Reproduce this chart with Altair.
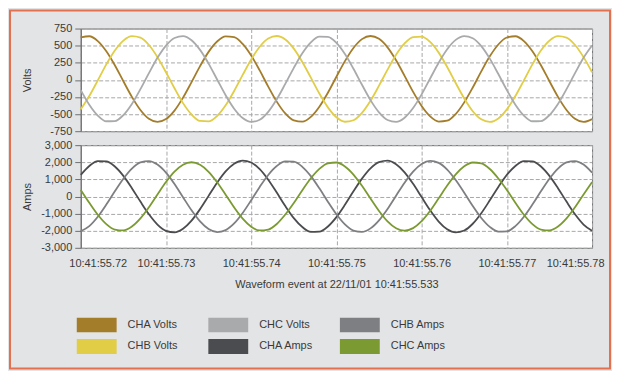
import altair as alt
import pandas as pd

# time offset in milliseconds from 10:41:55.720
t_ms = list(range(61))

cha_volts = [619, 637, 567, 418, 214, -20, -248, -440, -569, -615, -573, -449, -260, -33, 201, 409, 560, 635, 623, 525, 355, 138, -98, -318, -491,
             -593, -611, -541, -392, -188, 46, 274, 466, 595, 641, 599, 475, 286, 59, -175, -383, -534, -609, -597, -499, -329, -112, 124, 344, 517,
             619, 637, 567, 418, 214, -20, -248, -440, -569, -615, -573]
chb_volts = [-431, -236, -7, 226, 428, 573, 638, 616, 509, 332, 111, -123, -340, -506, -600, -607, -528, -372, -162, 72, 298, 484, 603, 641, 590,
             457, 262, 33, -200, -402, -547, -612, -590, -483, -306, -85, 149, 366, 532, 626, 633, 554, 398, 188, -46, -272, -458, -577, -615, -564,
             -431, -236, -7, 226, 428, 573, 638, 616, 509, 332, 111]
chc_volts = [-149, -362, -521, -605, -602, -514, -351, -136, 98, 322, 501, 612, 639, 579, 438, 238, 6, -224, -421, -558, -614, -582, -467, -284, -59,
             175, 388, 547, 631, 628, 540, 377, 162, -72, -296, -475, -586, -613, -553, -412, -212, 20, 250, 447, 584, 640, 608, 493, 310, 85,
             -149, -362, -521, -605, -602, -514, -351, -136, 98, 322, 501]
cha_amps = [1264, 1784, 2069, 2056, 1753, 1205, 487, -300, -1044, -1642, -2008, -2094, -1884, -1411, -739, 36, 807, 1464, 1915, 2098, 1987, 1594, 979, 227, -558,
            -1264, -1784, -2069, -2056, -1753, -1205, -487, 300, 1044, 1642, 2008, 2094, 1884, 1411, 739, -36, -807, -1464, -1915, -2098, -1987, -1594, -979, -227, 558,
            1264, 1784, 2069, 2056, 1753, 1205, 487, -300, -1044, -1642, -2008]
chb_amps = [-2034, -1733, -1188, -474, 304, 1040, 1631, 1991, 2072, 1864, 1392, 726, -44, -807, -1456, -1901, -2078, -1964, -1575, -963, -218, 560, 1258, 1778, 2051,
            2034, 1733, 1188, 474, -304, -1040, -1631, -1991, -2072, -1864, -1392, -726, 44, 807, 1456, 1901, 2078, 1964, 1575, 963, 218, -560, -1258, -1778, -2051,
            -2034, -1733, -1188, -474, 304, 1040, 1631, 1991, 2072, 1864, 1392]
chc_amps = [382, -368, -1066, -1614, -1935, -1985, -1756, -1280, -625, 119, 845, 1453, 1857, 2000, 1849, 1444, 833, 105, -638, -1291, -1763, -1987, -1932, -1606, -1054,
            -382, 368, 1066, 1614, 1935, 1985, 1756, 1280, 625, -119, -845, -1453, -1857, -2000, -1849, -1444, -833, -105, 638, 1291, 1763, 1987, 1932, 1606, 1054,
            382, -368, -1066, -1614, -1935, -1985, -1756, -1280, -625, 119, 845]

series_names = ["CHA Volts", "CHB Volts", "CHC Volts", "CHA Amps", "CHB Amps", "CHC Amps"]
series_colors = ["#a47d2b", "#e1cd46", "#a9aaac", "#4b4c4f", "#7e7f82", "#7b9b32"]

volt_ticks = [-750, -500, -250, 0, 250, 500, 750]
amp_ticks = [-3000, -2000, -1000, 0, 1000, 2000, 3000]
time_ticks = [0, 10, 20, 30, 40, 50, 60]
time_labels = ["10:41:55.72", "10:41:55.73", "10:41:55.74", "10:41:55.75",
               "10:41:55.76", "10:41:55.77", "10:41:55.78"]
x_title = "Waveform event at 22/11/01 10:41:55.533"


def long_table(named):
    rows = []
    for name, vals in named:
        for t, v in zip(t_ms, vals):
            rows.append({"t": t, "value": v, "series": name})
    return pd.DataFrame(rows)


volts = long_table([("CHA Volts", cha_volts), ("CHB Volts", chb_volts), ("CHC Volts", chc_volts)])
amps = long_table([("CHA Amps", cha_amps), ("CHB Amps", chb_amps), ("CHC Amps", chc_amps)])

time_label_expr = "[" + ",".join("'" + s + "'" for s in time_labels) + "][round(datum.value / 10)]"
signed_expr = "(datum.value < 0 ? '-' : '') + format(abs(datum.value), ',')"

FRAME = "#6d6e70"
TEXT = "#3a3a3a"
grid = dict(grid=True, gridColor="#a8a8a8", gridDash=[4, 2], gridWidth=1)

legend = alt.Legend(
    title=None, orient="none", legendX=-11.5, legendY=290, columns=3,
    symbolType="M-1,0H1", symbolSize=1600, symbolStrokeWidth=15,
    symbolOffset=0, labelOffset=3.5, clipHeight=15,
    columnPadding=18, rowPadding=6.5, gridAlign="all",
    labelFontSize=11, labelColor=TEXT, labelFont="Liberation Sans",
    padding=0, symbolOpacity=1,
)
color = alt.Color("series:N", scale=alt.Scale(domain=series_names, range=series_colors), legend=legend)

x_scale = alt.Scale(domain=[0, 60], nice=False, zero=False)
x_top = alt.X("t:Q", scale=x_scale,
              axis=alt.Axis(values=time_ticks, labels=False, ticks=False, domain=False, title=None, **grid))
x_bottom = alt.X("t:Q", scale=x_scale,
                 axis=alt.Axis(values=time_ticks, ticks=False, domain=False, labelExpr=time_label_expr,
                               labelFlush=True, labelFlushOffset=12, labelPadding=10,
                               title=x_title, titlePadding=10, **grid))

y_top = alt.Y("value:Q", scale=alt.Scale(domain=[-750, 750], nice=False),
              axis=alt.Axis(values=volt_ticks, labelExpr=signed_expr, tickSize=6, tickColor=FRAME,
                            domainColor=FRAME, labelPadding=3, title="Volts", titleX=-48, **grid))
y_bottom = alt.Y("value:Q", scale=alt.Scale(domain=[-3000, 3000], nice=False),
                 axis=alt.Axis(values=amp_ticks, labelExpr=signed_expr, tickSize=6, tickColor=FRAME,
                               domainColor=FRAME, labelPadding=3, title="Amps", titleX=-48, **grid))

frame = alt.Chart(pd.DataFrame({"frame": [0]})).mark_rect(
    fill="#e3e4e5", fillOpacity=0, stroke="#e3704f", strokeWidth=2
).encode(x=alt.value(-71), x2=alt.value(531), y=alt.value(-18), y2=alt.value(341))

lines_top = alt.Chart(volts).mark_line(strokeWidth=1.8, interpolate="monotone").encode(
    x=x_top, y=y_top, color=color)
lines_bottom = alt.Chart(amps).mark_line(strokeWidth=1.8, interpolate="monotone").encode(
    x=x_bottom, y=y_bottom, color=color)

top = alt.layer(frame, lines_top).properties(width=513, height=103)
bottom = lines_bottom.properties(width=513, height=103)

chart = (
    alt.vconcat(top, bottom, spacing=14, bounds="flush")
    .resolve_scale(color="shared")
    .resolve_legend(color="shared")
    .properties(background="#e3e4e5", padding=0)
    .configure(font="Liberation Sans")
    .configure_view(fill="white", stroke=FRAME, strokeWidth=1)
    .configure_axis(labelFontSize=11, labelColor=TEXT, titleFontSize=11,
                    titleFontWeight="normal", titleColor=TEXT, labelFont="Liberation Sans",
                    titleFont="Liberation Sans")
)

chart.save("out.html", embed_options={"renderer": "svg", "actions": False})
